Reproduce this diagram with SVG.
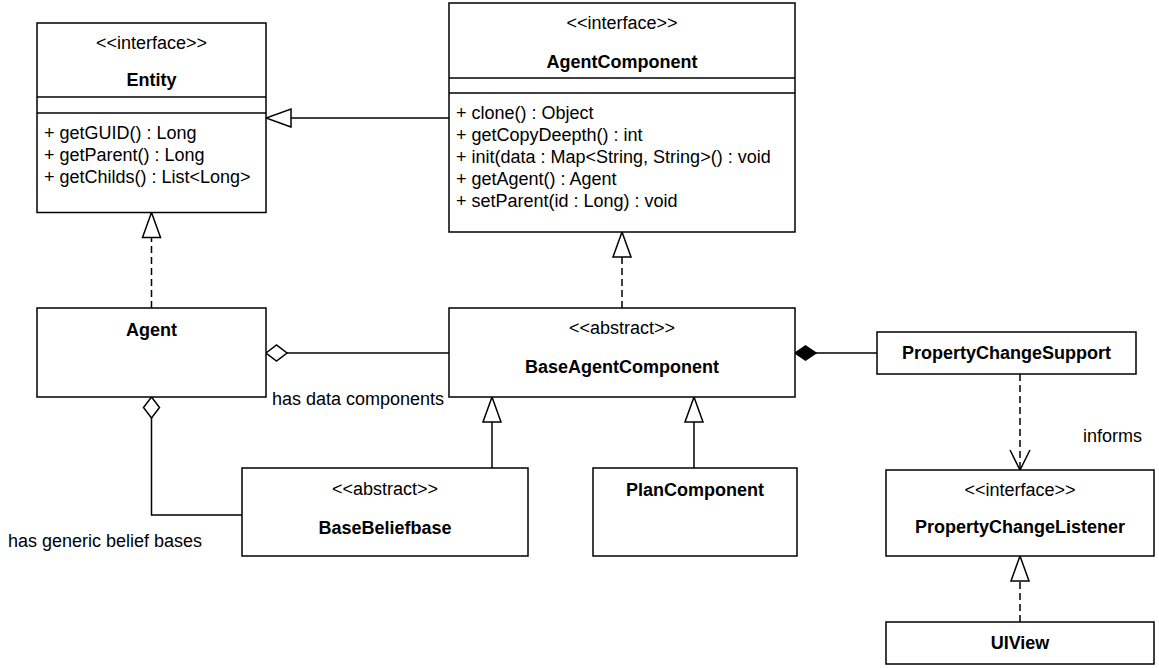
<svg xmlns="http://www.w3.org/2000/svg" width="1159" height="668" viewBox="0 0 1159 668">
<style>
  .box { fill: #ffffff; stroke: #000000; stroke-width: 1.5; }
  .sep { stroke: #000000; stroke-width: 1.5; fill: none; }
  text { font-family: "Liberation Sans", Arial, Helvetica, sans-serif; font-size: 18px; fill: #000000; }
  .c { text-anchor: middle; }
  .b { font-weight: bold; }
  .edge { fill: none; stroke: #000000; stroke-width: 1.5; }
  .dash { stroke-dasharray: 7 4; }
</style>
<defs>
  <marker id="tri" markerUnits="userSpaceOnUse" markerWidth="28" markerHeight="22" refX="25" refY="10" orient="auto" viewBox="-1 -1 28 22">
    <path d="M0,1 L25,10 L0,19 Z" fill="#ffffff" stroke="#000000" stroke-width="1.5" stroke-dasharray="none"/>
  </marker>
  <marker id="dia" markerUnits="userSpaceOnUse" markerWidth="24" markerHeight="20" refX="0" refY="9" orient="auto" viewBox="-1 -1 24 20">
    <path d="M0,9 L10.5,1 L21,9 L10.5,17 Z" fill="#ffffff" stroke="#000000" stroke-width="1.5" stroke-dasharray="none"/>
  </marker>
  <marker id="fdia" markerUnits="userSpaceOnUse" markerWidth="24" markerHeight="20" refX="0" refY="9" orient="auto" viewBox="-1 -1 24 20">
    <path d="M0,9 L10.5,2 L21,9 L10.5,16 Z" fill="#000000" stroke="#000000" stroke-width="1.5" stroke-dasharray="none"/>
  </marker>
  <marker id="open" markerUnits="userSpaceOnUse" markerWidth="24" markerHeight="24" refX="20" refY="11" orient="auto" viewBox="-1 -1 24 24">
    <path d="M0,1 L20,11 L0,21" fill="none" stroke="#000000" stroke-width="1.5" stroke-dasharray="none"/>
  </marker>
</defs>

<g id="connectors">
  <path id="e-ac-entity" class="edge" d="M449,118 L266,118" marker-end="url(#tri)"/>
  <path id="e-agent-entity" class="edge dash" d="M151.5,308 L151.5,212.5" marker-end="url(#tri)"/>
  <path id="e-bac-ac" class="edge dash" d="M622,308 L622,232" marker-end="url(#tri)"/>
  <path id="e-agent-bac" class="edge" d="M266,353 L449,353" marker-start="url(#dia)"/>
  <path id="e-agent-bbb" class="edge" d="M151.5,397 L151.5,515 L242,515" marker-start="url(#dia)"/>
  <path id="e-bbb-bac" class="edge" d="M492,468 L492,397" marker-end="url(#tri)"/>
  <path id="e-plan-bac" class="edge" d="M694,468 L694,397" marker-end="url(#tri)"/>
  <path id="e-bac-pcs" class="edge" d="M795,353 L877,353" marker-start="url(#fdia)"/>
  <path id="e-pcs-pcl" class="edge dash" d="M1020,374 L1020,470" marker-end="url(#open)"/>
  <path id="e-ui-pcl" class="edge dash" d="M1020,622 L1020,556" marker-end="url(#tri)"/>
  <text x="272" y="405">has data components</text>
  <text x="8" y="547">has generic belief bases</text>
  <text x="1083" y="442">informs</text>
</g>

<g id="Entity">
  <rect class="box" x="37" y="23" width="229" height="189.5"/>
  <line class="sep" x1="37" y1="97" x2="266" y2="97"/>
  <line class="sep" x1="37" y1="113" x2="266" y2="113"/>
  <text class="c" x="151.5" y="49">&lt;&lt;interface&gt;&gt;</text>
  <text class="c b" x="151.5" y="86">Entity</text>
  <text x="44" y="139">+ getGUID() : Long</text>
  <text x="44" y="161">+ getParent() : Long</text>
  <text x="44" y="183">+ getChilds() : List&lt;Long&gt;</text>
</g>

<g id="AgentComponent">
  <rect class="box" x="449" y="3" width="346" height="229"/>
  <line class="sep" x1="449" y1="78" x2="795" y2="78"/>
  <line class="sep" x1="449" y1="93" x2="795" y2="93"/>
  <text class="c" x="622" y="29">&lt;&lt;interface&gt;&gt;</text>
  <text class="c b" x="622" y="68">AgentComponent</text>
  <text x="456" y="119">+ clone() : Object</text>
  <text x="456" y="141">+ getCopyDeepth() : int</text>
  <text x="456" y="163">+ init(data : Map&lt;String, String&gt;() : void</text>
  <text x="456" y="185">+ getAgent() : Agent</text>
  <text x="456" y="207">+ setParent(id : Long) : void</text>
</g>

<g id="Agent">
  <rect class="box" x="37" y="308" width="229" height="89"/>
  <text class="c b" x="151.5" y="336">Agent</text>
</g>

<g id="BaseAgentComponent">
  <rect class="box" x="449" y="308" width="346" height="89"/>
  <text class="c" x="622" y="334">&lt;&lt;abstract&gt;&gt;</text>
  <text class="c b" x="622" y="373">BaseAgentComponent</text>
</g>

<g id="PropertyChangeSupport">
  <rect class="box" x="877" y="332" width="259" height="42"/>
  <text class="c b" x="1006.5" y="359">PropertyChangeSupport</text>
</g>

<g id="BaseBeliefbase">
  <rect class="box" x="242" y="468" width="286" height="88"/>
  <text class="c" x="385" y="495">&lt;&lt;abstract&gt;&gt;</text>
  <text class="c b" x="385" y="534">BaseBeliefbase</text>
</g>

<g id="PlanComponent">
  <rect class="box" x="593" y="468" width="204" height="88"/>
  <text class="c b" x="695" y="496">PlanComponent</text>
</g>

<g id="PropertyChangeListener">
  <rect class="box" x="886" y="470" width="268" height="86"/>
  <text class="c" x="1020" y="496">&lt;&lt;interface&gt;&gt;</text>
  <text class="c b" x="1020" y="533">PropertyChangeListener</text>
</g>

<g id="UIView">
  <rect class="box" x="886" y="622" width="268" height="42"/>
  <text class="c b" x="1020" y="649">UIView</text>
</g>
</svg>
